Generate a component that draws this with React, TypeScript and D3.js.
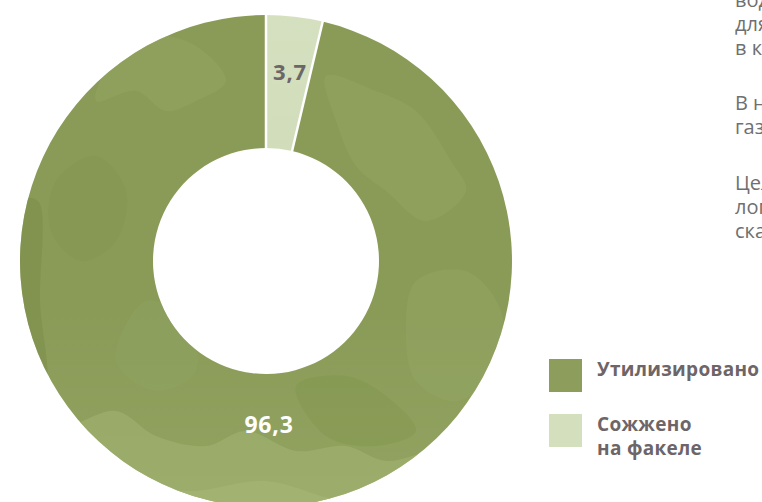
import React, { useEffect } from "react";
import * as d3 from "d3";

const categories = ["Сожжено на факеле", "Утилизировано"];
const values = [3.7, 96.3];
const valueLabels = ["3,7", "96,3"];
const legendLines = [["Утилизировано"], ["Сожжено", "на факеле"]];
const legendColors = ["#8d9e5c", "#d3dfbd"];
const sideText = ["водорода", "для", "в к", "В н", "газ", "Цел", "лог", "ска"];
const sideBaselines = [7, 31, 55, 110, 134, 190, 214, 238];

const W = 762;
const H = 502;
const cx = 266;
const cy = 261;
const R = 246;
const r = 113;

export default function App() {
  useEffect(() => {
    document.body.style.margin = "0";
  }, []);

  const pie = d3.pie<number>().sort(null).value((d) => d)(values);
  const arc = d3.arc<d3.PieArcDatum<number>>().innerRadius(r).outerRadius(R);
  const fills = ["url(#lightGrad)", "url(#mainGrad)"];

  // subtle camouflage blobs inside the large slice (decorative texture)
  const blobLine = d3.line<[number, number]>().curve(d3.curveCatmullRomClosed);
  const blobs: { pts: [number, number][]; fill: string; op: number }[] = [
    { pts: [[-250, 160], [-200, 165], [-150, 150], [-110, 175], [-60, 185], [-20, 170], [30, 190], [80, 185], [120, 200], [170, 190], [240, 200], [240, 270], [-250, 270]], fill: "#a1b271", op: 0.6 },
    { pts: [[-250, 230], [-150, 215], [-80, 230], [0, 220], [80, 240], [240, 235], [240, 270], [-250, 270]], fill: "#a8b878", op: 0.5 },
    { pts: [[-150, -205], [-110, -225], [-70, -215], [-40, -180], [-70, -160], [-100, -150], [-130, -170], [-170, -160]], fill: "#97a866", op: 0.4 },
    { pts: [[60, -185], [110, -170], [150, -150], [185, -100], [200, -70], [160, -40], [120, -70], [90, -95], [70, -140]], fill: "#97a866", op: 0.4 },
    { pts: [[-246, -60], [-228, -60], [-226, 40], [-222, 130], [-246, 130]], fill: "#7a8c47", op: 0.5 },
    { pts: [[150, 20], [200, 10], [235, 50], [230, 110], [190, 140], [150, 120], [140, 70]], fill: "#97a866", op: 0.35 },
    { pts: [[-210, -80], [-170, -105], [-140, -70], [-150, -20], [-185, 0], [-215, -30]], fill: "#7f9149", op: 0.3 },
    { pts: [[30, 125], [80, 115], [120, 135], [150, 170], [110, 185], [60, 175]], fill: "#7f9149", op: 0.35 },
    { pts: [[-120, 40], [-80, 60], [-70, 110], [-110, 130], [-150, 100]], fill: "#93a462", op: 0.3 },
  ];

  return (
    <div style={{ position: "fixed", left: 0, top: 0, width: W, height: H, overflow: "hidden", background: "#fff" }}>
      <svg width={W} height={H} style={{ display: "block", fontFamily: "'Open Sans', sans-serif" }}>
        <defs>
          <linearGradient id="mainGrad" x1="0" y1="0" x2="0" y2="1">
            <stop offset="0" stopColor="#8a9b58" />
            <stop offset="0.6" stopColor="#8a9b58" />
            <stop offset="1" stopColor="#93a462" />
          </linearGradient>
          <linearGradient id="lightGrad" x1="0" y1="0" x2="0" y2="1">
            <stop offset="0" stopColor="#d5e0c0" />
            <stop offset="1" stopColor="#d1ddba" />
          </linearGradient>
          <clipPath id="bigSlice">
            <path d={arc(pie[1]) || ""} transform={`translate(${cx},${cy})`} />
          </clipPath>
        </defs>
        <g transform={`translate(${cx},${cy})`}>
          {pie.map((p, i) => (
            <path key={categories[i]} d={arc(p) || ""} fill={fills[i]} />
          ))}
        </g>
        <g clipPath="url(#bigSlice)">
          <g transform={`translate(${cx},${cy})`}>
            {blobs.map((b, i) => (
              <path key={i} d={blobLine(b.pts) || ""} fill={b.fill} opacity={b.op} />
            ))}
          </g>
        </g>
        <g transform={`translate(${cx},${cy})`}>
          {pie.map((p, i) => {
            const a = p.startAngle;
            const x1 = Math.sin(a) * (r - 2);
            const y1 = -Math.cos(a) * (r - 2);
            const x2 = Math.sin(a) * (R + 2);
            const y2 = -Math.cos(a) * (R + 2);
            return <line key={"s" + i} x1={x1} y1={y1} x2={x2} y2={y2} stroke="#fff" strokeWidth={2.5} />;
          })}
          {pie.map((p, i) => {
            const mid = (p.startAngle + p.endAngle) / 2;
            const x = i === 0 ? Math.sin(mid) * 190 + 2 : 3;
            const y = i === 0 ? -Math.cos(mid) * 190 + 8 : 172;
            return (
              <text
                key={"l" + i}
                x={x}
                y={y}
                textAnchor="middle"
                fontSize={i === 0 ? 22 : 23}
                fontWeight={700}
                letterSpacing={0.8}
                fill={i === 0 ? "#6b6668" : "#ffffff"}
              >
                {valueLabels[i]}
              </text>
            );
          })}
        </g>
        {legendLines.map((lines, i) => (
          <g key={"lg" + i} transform={`translate(549,${359 + i * 55})`}>
            <rect width={33} height={33} fill={legendColors[i]} />
            {lines.map((t, j) => (
              <text
                key={j}
                x={48}
                y={17 + j * 24}
                fontSize={19}
                fontWeight={700}
                letterSpacing={0.3}
                fill="#6d6567"
              >
                {t}
              </text>
            ))}
          </g>
        ))}
        {sideText.map((t, i) => (
          <text key={"st" + i} x={735} y={sideBaselines[i]} fontSize={20} fill="#6f6f6f">
            {t}
          </text>
        ))}
      </svg>
    </div>
  );
}
